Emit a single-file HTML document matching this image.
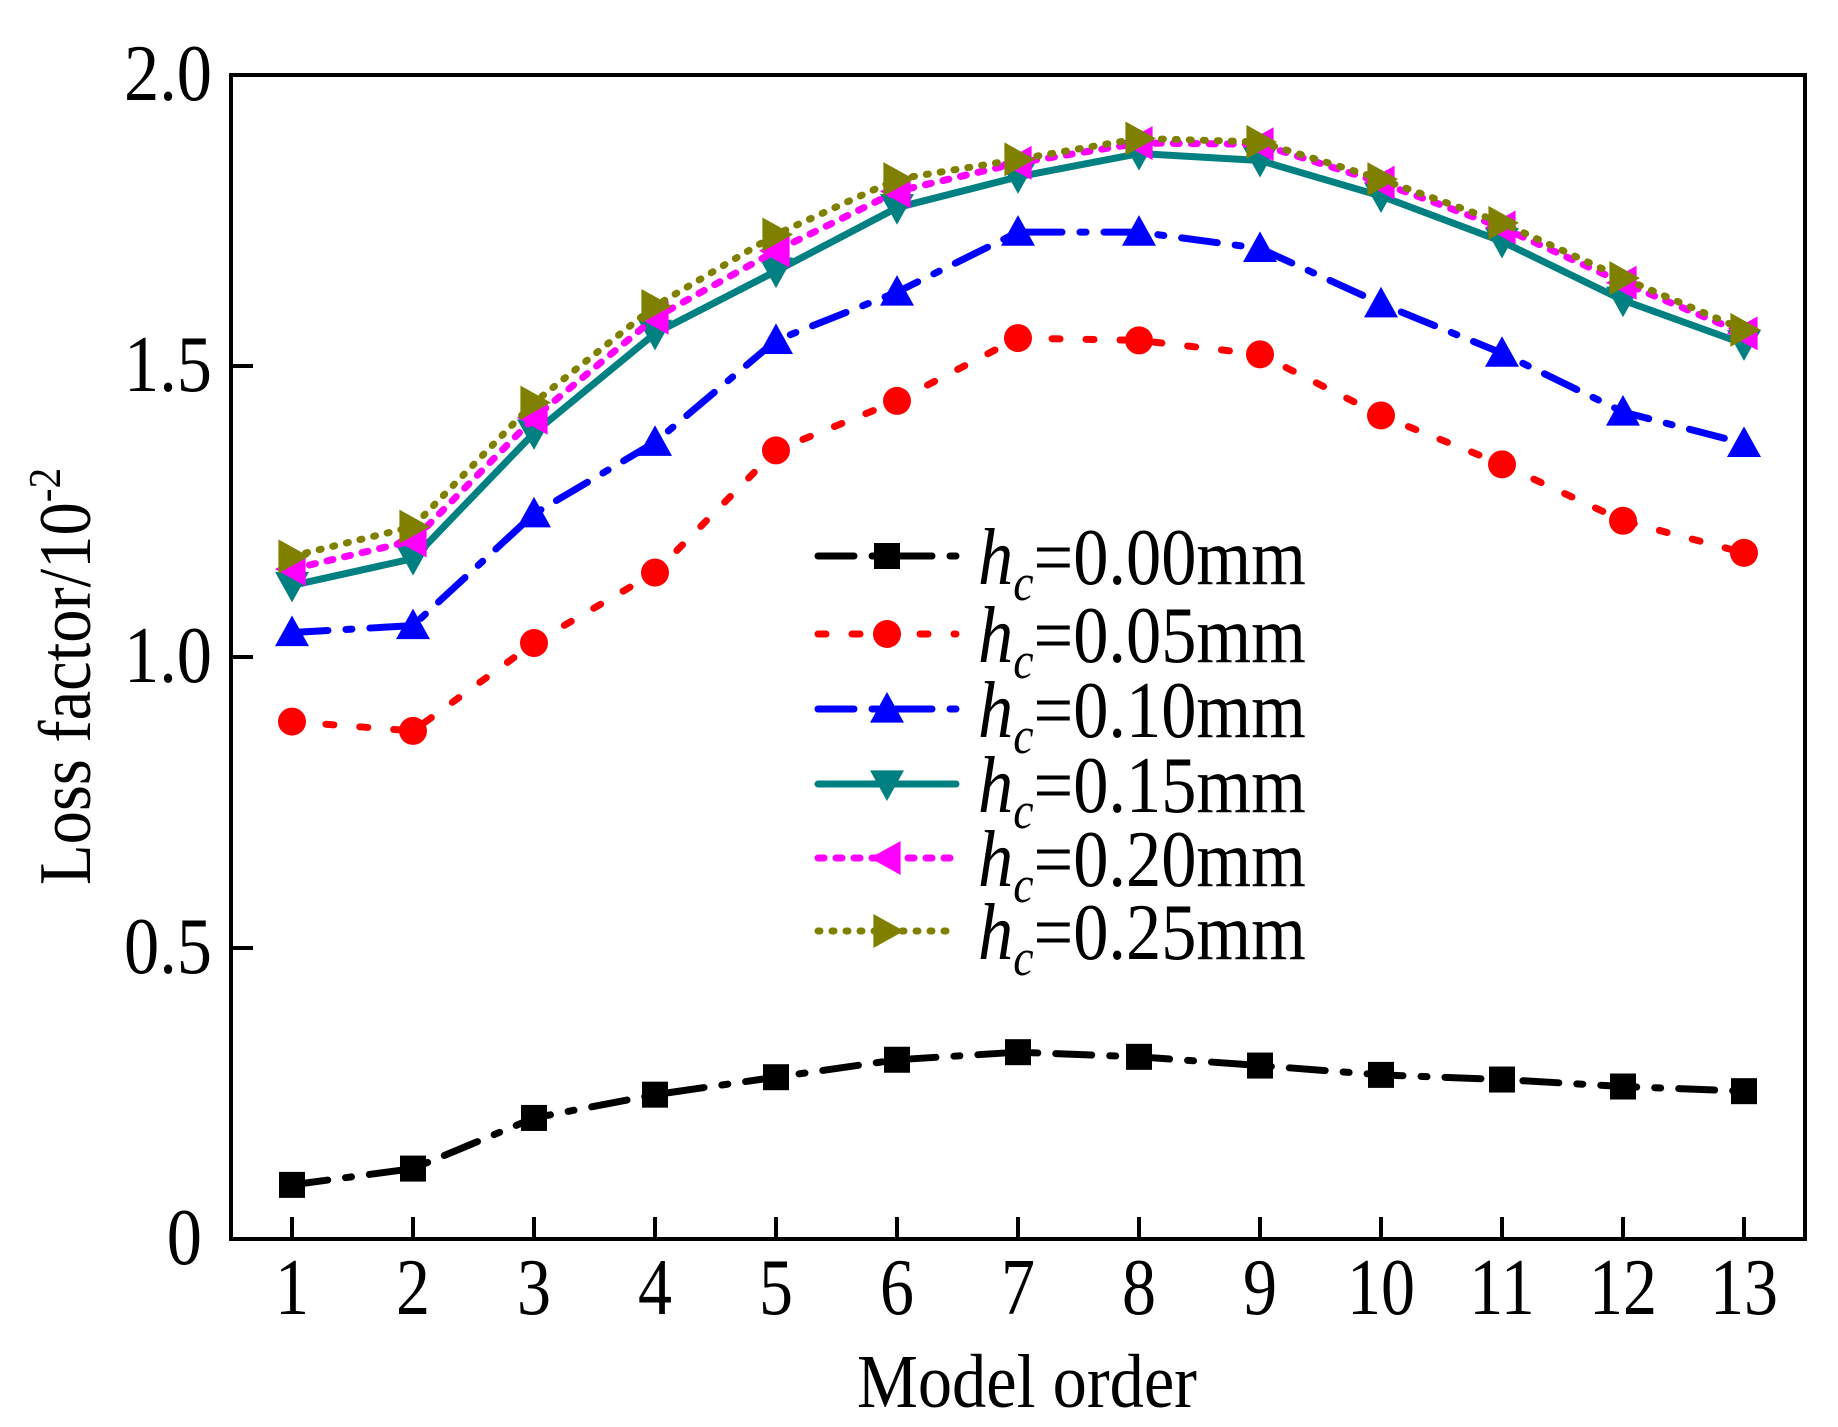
<!DOCTYPE html>
<html><head><meta charset="utf-8"><style>
html,body{margin:0;padding:0;background:#fff;width:1838px;height:1427px;overflow:hidden}
svg text{font-family:"Liberation Serif",serif;fill:#000}
</style></head><body>
<svg id="s" width="1838" height="1427" viewBox="0 0 1838 1427" xmlns="http://www.w3.org/2000/svg">
<rect x="231" y="75" width="1574" height="1164" fill="none" stroke="#000" stroke-width="4"/>
<g stroke="#000" stroke-width="4">
<line x1="231" y1="366" x2="253" y2="366"/><line x1="231" y1="657" x2="253" y2="657"/><line x1="231" y1="948" x2="253" y2="948"/>
</g>
<g font-size="80" text-anchor="end">
<text transform="translate(212,100) scale(0.88,1)">2.0</text>
<text transform="translate(212,391) scale(0.88,1)">1.5</text>
<text transform="translate(212,682) scale(0.88,1)">1.0</text>
<text transform="translate(212,973) scale(0.88,1)">0.5</text>
<text transform="translate(202,1264) scale(0.88,1)">0</text>
</g>
<g id="xt" font-size="80" text-anchor="middle"></g>
<text transform="translate(1027,1407) scale(0.9,1)" font-size="76" text-anchor="middle">Model order</text>
<text transform="translate(90,885) rotate(-90) scale(0.9,1)" font-size="74">Loss factor/10<tspan font-size="46" dy="-30">-2</tspan></text>
<g id="series"></g>
<g id="leg" font-size="80"></g>
</svg>
<script>
const NS="http://www.w3.org/2000/svg";
const s=document.getElementById('s');
const X=i=>292+121*(i);
const Y=v=>1239-582*v;
const xt=document.getElementById('xt');
for(let i=0;i<13;i++){
 const l=document.createElementNS(NS,'line');
 l.setAttribute('x1',X(i));l.setAttribute('x2',X(i));l.setAttribute('y1',1239);l.setAttribute('y2',1217);
 l.setAttribute('stroke','#000');l.setAttribute('stroke-width',4);s.appendChild(l);
 const t=document.createElementNS(NS,'text');t.setAttribute('transform','translate('+X(i)+',1314) scale(0.85,1)');t.textContent=i+1;xt.appendChild(t);
}
const data=[
 {c:'#000',d:'36 18 6 18',m:'sq',v:[0.093,0.121,0.208,0.248,0.278,0.308,0.321,0.313,0.298,0.282,0.274,0.262,0.254]},
 {c:'#ff0000',d:'8 26',m:'ci',v:[0.889,0.873,1.024,1.145,1.355,1.440,1.548,1.544,1.520,1.415,1.331,1.234,1.179]},
 {c:'#0000ff',d:'36 18 6 18',m:'up',v:[1.042,1.054,1.246,1.369,1.544,1.627,1.730,1.730,1.702,1.607,1.522,1.421,1.367]},
 {c:'#008080',d:'',m:'dn',v:[1.123,1.169,1.385,1.556,1.663,1.772,1.825,1.865,1.853,1.792,1.714,1.613,1.538]},
 {c:'#ff00ff',d:'6 12',m:'lt',v:[1.151,1.200,1.411,1.583,1.698,1.800,1.849,1.883,1.881,1.815,1.738,1.643,1.556]},
 {c:'#808000',d:'2 12',m:'rt',v:[1.173,1.224,1.437,1.603,1.726,1.821,1.855,1.891,1.885,1.821,1.746,1.651,1.562]}
];
const g=document.getElementById('series');
function marker(par,m,x,y,c){
 let e;const r=13;
 if(m==='sq'){e=document.createElementNS(NS,'rect');e.setAttribute('x',x-r);e.setAttribute('y',y-r);e.setAttribute('width',2*r);e.setAttribute('height',2*r);}
 else if(m==='ci'){e=document.createElementNS(NS,'circle');e.setAttribute('cx',x);e.setAttribute('cy',y);e.setAttribute('r',14);}
 else{e=document.createElementNS(NS,'polygon');let p;const a=17;
  if(m==='up')p=[[x,y-a],[x+a,y+a*0.8],[x-a,y+a*0.8]];
  if(m==='dn')p=[[x,y+a],[x+a,y-a*0.8],[x-a,y-a*0.8]];
  if(m==='lt')p=[[x-a,y],[x+a*0.8,y-a],[x+a*0.8,y+a]];
  if(m==='rt')p=[[x+a,y],[x-a*0.8,y-a],[x-a*0.8,y+a]];
  e.setAttribute('points',p.map(q=>q.join(',')).join(' '));}
 e.setAttribute('fill',c);par.appendChild(e);
}
function line(par,pts,c,d){
 const p=document.createElementNS(NS,'polyline');
 p.setAttribute('points',pts.map(q=>q.join(',')).join(' '));
 p.setAttribute('fill','none');p.setAttribute('stroke',c);p.setAttribute('stroke-width',7);
 p.setAttribute('stroke-linecap','round');p.setAttribute('stroke-linejoin','round');
 if(d)p.setAttribute('stroke-dasharray',d);par.appendChild(p);
}
data.forEach(S=>{line(g,S.v.map((v,i)=>[X(i),Y(v)]),S.c,S.d);S.v.forEach((v,i)=>marker(g,S.m,X(i),Y(v),S.c));});
const lg=document.getElementById('leg');
const labs=['0.00','0.05','0.10','0.15','0.20','0.25'];
const rows=[556,634,709,784,858,931];
data.forEach((S,k)=>{
 const y=rows[k];
 line(lg,[[818,y],[956,y]],S.c,S.d);
 marker(lg,S.m,887,y,S.c);
 const t=document.createElementNS(NS,'text');
 t.setAttribute('transform','translate(978,'+(y+28)+') scale(0.88,1)');
 t.innerHTML='<tspan font-style="italic">h</tspan><tspan font-style="italic" font-size="52" dy="16">c</tspan><tspan dy="-16">='+labs[k]+'mm</tspan>';
 lg.appendChild(t);
});
</script>
</body></html>
